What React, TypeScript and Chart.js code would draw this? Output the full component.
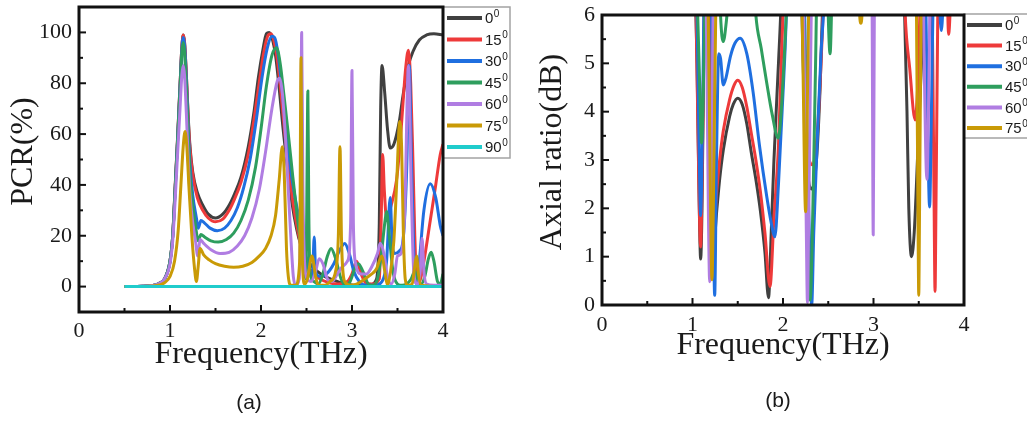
import React, { useEffect, useRef } from 'react';
import { Chart, registerables } from 'chart.js';

Chart.register(...registerables);

type Pt = [number, number];

// ---------- labels / ticks ----------
const ANGLES = ['0', '15', '30', '45', '60', '75', '90'];
const COLORS = ['#404040', '#ee3a3a', '#1f6fe0', '#2e9e5e', '#b07de2', '#c99a06', '#20cccc'];
const FREQ_TICKS = [0, 1, 2, 3, 4];
const FREQ_MINOR = [0.5, 1.5, 2.5, 3.5];
const PCR_TICKS = [0, 20, 40, 60, 80, 100];
const PCR_MINOR = [10, 30, 50, 70, 90];
const AR_TICKS = [0, 1, 2, 3, 4, 5, 6];
const AR_MINOR = [0.5, 1.5, 2.5, 3.5, 4.5, 5.5];

// ---------- (a) PCR(%) series ----------
const PCR_0: Pt[] = [[0.5,0],[0.7,0.1],[0.8,0.4],[0.88,1.2],[0.94,3],[1.0,10],[1.03,20],[1.055,38],[1.08,56],[1.11,79],[1.13,94],[1.146,99],[1.16,96],[1.18,83],[1.2,67],[1.22,55],[1.25,45],[1.3,37],[1.36,32],[1.42,28.5],[1.5,27],[1.58,28.5],[1.65,32],[1.71,36.5],[1.78,43],[1.86,55],[1.92,68],[1.97,82],[2.02,93],[2.06,99.5],[2.09,100],[2.12,98],[2.16,91],[2.2,78],[2.24,63],[2.29,47],[2.34,33],[2.39,23],[2.44,16],[2.5,11],[2.56,8],[2.62,6],[2.7,4],[2.8,2.5],[2.9,1.2],[3.0,0.6],[3.1,0.4],[3.2,0.8],[3.27,3],[3.3,25],[3.315,70],[3.33,87],[3.36,76],[3.39,62],[3.42,54.5],[3.46,56],[3.52,65],[3.56,75],[3.62,87],[3.67,92.5],[3.74,97],[3.82,99],[3.9,99.5],[4.0,99]];
const PCR_15: Pt[] = [[0.5,0],[0.7,0.1],[0.8,0.4],[0.88,1.2],[0.94,3],[1.0,10],[1.03,20],[1.055,38],[1.08,56],[1.11,79],[1.13,94],[1.146,99],[1.16,96],[1.18,83],[1.2,66],[1.22,54],[1.25,44],[1.3,35],[1.36,30],[1.42,27],[1.5,25.5],[1.58,26.5],[1.65,30],[1.71,34.5],[1.78,41],[1.86,52],[1.92,65],[1.98,80],[2.03,92],[2.08,99],[2.11,99.5],[2.14,97],[2.18,89],[2.22,76],[2.26,61],[2.31,45],[2.36,31],[2.41,21],[2.46,13],[2.52,8],[2.58,5],[2.65,3],[2.75,1.5],[2.85,1],[2.95,2],[3.0,5],[3.05,10],[3.1,5],[3.15,1.5],[3.22,1],[3.3,3],[3.32,25],[3.337,52],[3.355,38],[3.38,27],[3.43,32],[3.49,42],[3.53,57],[3.56,72],[3.59,86],[3.62,93],[3.645,80],[3.67,49],[3.69,20],[3.71,3],[3.73,1],[3.76,4],[3.8,12],[3.86,26],[3.92,40],[3.97,52],[4.0,56]];
const PCR_30: Pt[] = [[0.5,0],[0.7,0.1],[0.8,0.4],[0.88,1.2],[0.94,3],[1.0,10],[1.03,20],[1.055,37],[1.08,55],[1.11,78],[1.13,93],[1.146,98],[1.16,95],[1.18,81],[1.2,63],[1.22,48],[1.25,36],[1.29,27],[1.31,23],[1.34,26],[1.38,25],[1.44,23],[1.52,22],[1.6,23],[1.67,26],[1.74,31],[1.81,39],[1.88,50],[1.95,66],[2.01,82],[2.07,94],[2.12,98.5],[2.15,98],[2.19,91],[2.23,78],[2.28,60],[2.33,45],[2.38,34],[2.43,25],[2.48,15],[2.53,6],[2.565,4],[2.585,19.5],[2.6,6],[2.65,4],[2.72,5],[2.8,9],[2.86,14],[2.92,17],[2.97,13],[3.02,6],[3.08,2],[3.15,0.5],[3.25,0.5],[3.33,2],[3.38,10],[3.42,35],[3.44,18],[3.47,13],[3.52,14],[3.56,18],[3.6,45],[3.63,87],[3.65,55],[3.68,12],[3.71,1],[3.74,10],[3.79,30],[3.86,40.5],[3.92,35],[3.97,24],[4.0,20]];
const PCR_45: Pt[] = [[0.5,0],[0.7,0.1],[0.8,0.4],[0.88,1.2],[0.94,3],[1.0,10],[1.03,20],[1.055,37],[1.08,55],[1.11,77],[1.13,92],[1.146,96],[1.16,92],[1.18,78],[1.2,60],[1.22,44],[1.25,32],[1.28,24],[1.31,18],[1.34,20.5],[1.38,19.5],[1.45,18],[1.53,17.5],[1.62,18.5],[1.7,21],[1.78,26],[1.86,34],[1.94,47],[2.0,62],[2.06,79],[2.12,91],[2.17,94],[2.21,88],[2.25,76],[2.3,60],[2.35,43],[2.4,27],[2.45,13],[2.48,5],[2.495,3],[2.507,50],[2.515,77],[2.525,30],[2.54,5],[2.58,2],[2.63,1],[2.68,5],[2.73,12],[2.77,15],[2.82,11],[2.88,3],[2.93,0.5],[2.98,2],[3.03,7],[3.07,9],[3.12,6],[3.18,1],[3.23,0.5],[3.28,3],[3.32,12],[3.36,25],[3.38,29.5],[3.41,20],[3.45,6],[3.5,1],[3.55,0.5],[3.6,1],[3.65,3],[3.69,6],[3.72,3],[3.76,1],[3.8,4],[3.84,11],[3.87,13.5],[3.9,10],[3.94,2],[3.97,1],[4.0,5]];
const PCR_60: Pt[] = [[0.5,0],[0.7,0.1],[0.8,0.4],[0.88,1.2],[0.94,3],[1.0,9],[1.03,18],[1.055,33],[1.08,50],[1.11,70],[1.13,83],[1.146,87],[1.16,83],[1.18,68],[1.2,50],[1.22,36],[1.25,25],[1.28,18],[1.305,12],[1.33,18.5],[1.37,17],[1.45,14.5],[1.55,13],[1.65,13.5],[1.74,16],[1.82,20],[1.9,27],[1.98,38],[2.05,53],[2.12,70],[2.18,81],[2.205,82],[2.235,76],[2.27,58],[2.3,38],[2.33,18],[2.355,4],[2.38,0.5],[2.42,3],[2.437,40],[2.447,100],[2.46,40],[2.49,5],[2.55,2],[2.6,6],[2.64,11],[2.68,9],[2.73,3],[2.78,2],[2.84,5],[2.9,8],[2.95,10],[2.985,25],[3.0,85],[3.015,25],[3.04,9],[3.1,5],[3.16,5],[3.22,8],[3.28,13],[3.31,17],[3.35,13],[3.39,4],[3.43,1],[3.47,5],[3.5,12],[3.54,13],[3.58,30],[3.62,87],[3.65,40],[3.68,5],[3.72,1],[3.75,6],[3.77,19],[3.79,6],[3.82,1],[3.9,0.5],[4.0,0.5]];
const PCR_75: Pt[] = [[0.5,0],[0.7,0.05],[0.8,0.2],[0.88,0.6],[0.94,1.5],[1.0,4],[1.05,10],[1.09,22],[1.12,40],[1.145,55],[1.165,61],[1.185,55],[1.21,38],[1.24,20],[1.27,7],[1.29,2],[1.31,8],[1.33,15],[1.37,12.5],[1.43,10.5],[1.5,9],[1.6,8],[1.7,7.6],[1.8,8],[1.9,9.5],[1.98,12],[2.05,15],[2.11,20],[2.16,28],[2.2,42],[2.234,55],[2.255,45],[2.28,15],[2.3,4],[2.33,0.5],[2.38,0.5],[2.425,10],[2.44,90],[2.455,10],[2.48,1],[2.51,3],[2.56,12],[2.6,4],[2.63,0.5],[2.7,0.5],[2.76,2],[2.82,6],[2.85,20],[2.868,55],[2.885,18],[2.92,2],[2.98,0.5],[3.05,1],[3.12,2.5],[3.2,4.5],[3.27,7],[3.31,11],[3.33,12],[3.36,6],[3.39,0.5],[3.42,5],[3.46,18],[3.49,40],[3.525,65],[3.545,55],[3.565,20],[3.585,3],[3.61,0.5],[3.66,1],[3.69,8],[3.71,12],[3.73,5],[3.76,0.5],[4.0,0]];
const PCR_90: Pt[] = [[0.5,0],[4.0,0]];

// ---------- (b) Axial ratio (dB) series ----------
const AR_0: Pt[] = [[1.0,9],[1.05,5],[1.075,2],[1.09,0.95],[1.105,2],[1.13,6],[1.16,9],[1.19,8],[1.205,4],[1.22,1.6],[1.24,1.4],[1.27,2.0],[1.3,2.6],[1.34,3.2],[1.41,3.9],[1.45,4.15],[1.5,4.28],[1.55,4.15],[1.6,3.75],[1.65,3.15],[1.7,2.6],[1.75,1.95],[1.8,1.1],[1.84,0.15],[1.87,1.5],[1.9,3],[1.95,5],[1.98,6.3],[2.02,9],[2.18,9],[2.21,6],[2.23,4.5],[2.27,2.8],[2.32,2.4],[2.37,3],[2.41,4.5],[2.44,6.3],[2.47,9],[3.3,9],[3.34,6.3],[3.37,4.0],[3.39,2.0],[3.42,1.0],[3.45,1.5],[3.49,3.2],[3.53,5],[3.57,6.5],[3.6,9],[4.0,9]];
const AR_15: Pt[] = [[1.0,9],[1.04,6],[1.07,2.5],[1.09,1.2],[1.105,2.5],[1.13,6],[1.16,9],[1.19,8],[1.205,4],[1.22,1.9],[1.24,1.7],[1.27,2.4],[1.3,3.0],[1.34,3.6],[1.41,4.25],[1.46,4.55],[1.5,4.65],[1.55,4.5],[1.6,4.1],[1.65,3.55],[1.7,3.0],[1.75,2.35],[1.8,1.5],[1.856,0.38],[1.9,1.8],[1.95,3.3],[1.99,5.5],[2.02,7],[2.05,9],[2.18,9],[2.21,6.5],[2.24,4.5],[2.28,3.1],[2.33,2.9],[2.38,3.6],[2.42,5],[2.45,6.5],[2.48,9],[3.3,9],[3.35,6],[3.4,4.9],[3.46,3.83],[3.49,4.6],[3.52,6.5],[3.55,9],[3.63,9],[3.655,5],[3.67,2],[3.68,0.28],[3.69,2],[3.705,5],[3.73,9],[3.8,8],[3.83,5.6],[3.855,6.5],[3.88,8],[4.0,9]];
const AR_30: Pt[] = [[1.0,9],[1.05,6],[1.075,3],[1.09,1.85],[1.105,3],[1.125,6],[1.15,9],[1.2,8],[1.225,3],[1.245,0.2],[1.265,3],[1.29,5.2],[1.31,5.1],[1.34,4.55],[1.37,4.7],[1.42,5.15],[1.47,5.42],[1.527,5.52],[1.6,5.2],[1.67,4.4],[1.74,3.3],[1.82,2.25],[1.87,1.7],[1.91,1.41],[1.95,2.5],[1.99,4.0],[2.04,6.2],[2.07,9],[2.2,9],[2.24,6],[2.27,3],[2.3,0.8],[2.317,0],[2.34,1.5],[2.38,3.5],[2.42,5.2],[2.46,6.5],[2.5,9],[3.55,9],[3.58,6],[3.6,3.5],[3.62,2.03],[3.64,4],[3.66,6.5],[3.7,9],[3.73,6.3],[3.75,5.68],[3.77,6.3],[3.8,8],[4.0,9]];
const AR_45: Pt[] = [[1.0,9],[1.05,6.5],[1.08,4.5],[1.1,3.35],[1.12,4.5],[1.14,6.5],[1.17,9],[1.28,8],[1.31,6],[1.34,5.45],[1.37,5.8],[1.4,6.5],[1.43,8],[1.64,8],[1.7,6],[1.76,5.3],[1.82,4.6],[1.88,3.95],[1.948,3.45],[1.98,4.0],[2.01,5.0],[2.04,6.2],[2.07,8],[2.2,8],[2.24,5],[2.27,2],[2.3,0.1],[2.33,2],[2.36,5],[2.39,8],[2.48,8],[2.5,6],[2.52,5.2],[2.535,6],[2.55,8],[4.0,8]];
const AR_60: Pt[] = [[1.1,9],[1.15,6.5],[1.175,2],[1.19,0.48],[1.205,2],[1.23,6.5],[1.26,9],[2.2,9],[2.235,5],[2.258,1.5],[2.27,0.05],[2.282,1.5],[2.305,5],[2.34,9],[2.96,9],[2.985,6],[2.997,1.45],[3.009,6],[3.03,9],[3.53,9],[3.56,5],[3.59,2.6],[3.615,5],[3.64,9],[4.0,9]];
const AR_75: Pt[] = [[1.1,9],[1.17,6.5],[1.2,2],[1.215,0.52],[1.23,2],[1.26,6.5],[1.3,9],[2.18,9],[2.22,5],[2.25,1.93],[2.275,5],[2.31,9],[2.82,8],[2.845,6.1],[2.86,5.83],[2.875,6.1],[2.9,8],[3.44,9],[3.475,6],[3.493,1.5],[3.5,0.2],[3.507,1.5],[3.525,6],[3.56,9],[4.0,9]];

const PCR_SERIES = [PCR_0, PCR_15, PCR_30, PCR_45, PCR_60, PCR_75, PCR_90];
const AR_SERIES = [AR_0, AR_15, AR_30, AR_45, AR_60, AR_75];

const SERIF = '"Liberation Serif", "Times New Roman", serif';
const SANS = '"Liberation Sans", Arial, sans-serif';

function makeDatasets(series: Pt[][]) {
  return series.map((pts, i) => ({
    label: ANGLES[i] + '°',
    data: pts.map(([x, y]) => ({ x, y })),
    borderColor: COLORS[i],
    backgroundColor: COLORS[i],
    borderWidth: 3,
    pointRadius: 0,
    cubicInterpolationMode: 'monotone' as const,
    borderJoinStyle: 'round' as const,
    fill: false,
    order: series.length - i,
  }));
}

interface Cfg {
  yMin: number; yMax: number; yTicks: number[]; yMinor: number[]; yTitle: string;
  padTop: number; padRight: number; yWidth: number; xHeight: number;
  xTitlePad: number; yTitlePad: number; xTickPad: number;
  legend: { count: number; dy: number; w: number; h: number; first: number; step: number; lx0: number; lx1: number; tx: number };
}

function decorPlugin(cfg: Cfg) {
  return {
    id: 'decor',
    afterDatasetsDraw(chart: any) {
      const { ctx, chartArea: a, scales } = chart;
      const xs = scales.x, ys = scales.y;
      ctx.save();
      // legend box + entries
      const L = cfg.legend;
      ctx.strokeStyle = '#a3a3a3';
      ctx.lineWidth = 1.5;
      ctx.strokeRect(a.right, a.top + L.dy, L.w, L.h);
      for (let i = 0; i < L.count; i++) {
        const y = a.top + L.first + i * L.step;
        ctx.strokeStyle = COLORS[i];
        ctx.lineWidth = 4;
        ctx.lineCap = 'butt';
        ctx.beginPath();
        ctx.moveTo(a.right + L.lx0, y);
        ctx.lineTo(a.right + L.lx1, y);
        ctx.stroke();
        ctx.fillStyle = '#1a1a1a';
        ctx.textAlign = 'left';
        ctx.textBaseline = 'middle';
        ctx.font = '15px ' + SANS;
        ctx.fillText(ANGLES[i], a.right + L.tx, y + 1);
        const w = ctx.measureText(ANGLES[i]).width;
        ctx.font = '10px ' + SANS;
        ctx.fillText('0', a.right + L.tx + w + 0.5, y - 4);
      }
      // inward ticks
      ctx.strokeStyle = '#111';
      ctx.lineWidth = 2;
      ctx.lineCap = 'butt';
      const tick = (x1: number, y1: number, x2: number, y2: number) => {
        ctx.beginPath(); ctx.moveTo(x1, y1); ctx.lineTo(x2, y2); ctx.stroke();
      };
      FREQ_TICKS.forEach(v => { const p = xs.getPixelForValue(v); tick(p, a.bottom, p, a.bottom - 7); });
      FREQ_MINOR.forEach(v => { const p = xs.getPixelForValue(v); tick(p, a.bottom, p, a.bottom - 4); });
      cfg.yTicks.forEach(v => { const p = ys.getPixelForValue(v); tick(a.left, p, a.left + 7, p); });
      cfg.yMinor.forEach(v => { const p = ys.getPixelForValue(v); tick(a.left, p, a.left + 4, p); });
      // frame
      ctx.lineWidth = 3;
      ctx.strokeStyle = '#111';
      ctx.strokeRect(a.left, a.top, a.right - a.left, a.bottom - a.top);
      ctx.restore();
    },
  };
}

function makeOptions(cfg: Cfg): any {
  return {
    responsive: false,
    animation: false,
    events: [],
    layout: { padding: { left: 0, top: cfg.padTop, right: cfg.padRight, bottom: 0 } },
    plugins: { legend: { display: false }, tooltip: { enabled: false } },
    scales: {
      x: {
        type: 'linear',
        min: 0,
        max: 4,
        grid: { display: false, drawTicks: false },
        border: { display: false },
        ticks: { font: { family: SERIF, size: 22 }, color: '#1a1a1a', padding: cfg.xTickPad },
        title: {
          display: true,
          text: 'Frequency(THz)',
          font: { family: SERIF, size: 32, lineHeight: 1.2 },
          color: '#1a1a1a',
          padding: { top: 0, bottom: cfg.xTitlePad },
        },
        afterBuildTicks: (s: any) => { s.ticks = FREQ_TICKS.map(v => ({ value: v })); },
        afterFit: (s: any) => { s.height = cfg.xHeight; s.paddingLeft = 0; s.paddingRight = 0; },
      },
      y: {
        type: 'linear',
        min: cfg.yMin,
        max: cfg.yMax,
        grid: { display: false, drawTicks: false },
        border: { display: false },
        ticks: { font: { family: SERIF, size: 22 }, color: '#1a1a1a', padding: 7 },
        title: {
          display: true,
          text: cfg.yTitle,
          font: { family: SERIF, size: 32, lineHeight: 1.2 },
          color: '#1a1a1a',
          padding: { top: cfg.yTitlePad, bottom: 0 },
        },
        afterBuildTicks: (s: any) => { s.ticks = cfg.yTicks.map(v => ({ value: v })); },
        afterFit: (s: any) => { s.width = cfg.yWidth; s.paddingTop = 0; s.paddingBottom = 0; },
      },
    },
  };
}

const PCR_CFG: Cfg = {
  yMin: -10, yMax: 110, yTicks: PCR_TICKS, yMinor: PCR_MINOR, yTitle: '  PCR(%)',
  padTop: 7, padRight: 72, yWidth: 79, xHeight: 113, xTitlePad: 50.8, yTitlePad: 4.8, xTickPad: 6,
  legend: { count: 7, dy: 0, w: 67, h: 151, first: 11, step: 21.5, lx0: 4, lx1: 39, tx: 42 },
};

const AR_CFG: Cfg = {
  yMin: 0, yMax: 6, yTicks: AR_TICKS, yMinor: AR_MINOR, yTitle: '  Axial ratio(dB)',
  padTop: 15, padRight: 63, yWidth: 87, xHeight: 120, xTitlePad: 59.8, yTitlePad: 18.8, xTickPad: 7,
  legend: { count: 6, dy: -1, w: 80, h: 124, first: 10, step: 20.6, lx0: 3, lx1: 38, tx: 41 },
};

function LineChart({ series, cfg, width, height }: { series: Pt[][]; cfg: Cfg; width: number; height: number }) {
  const ref = useRef<HTMLCanvasElement>(null);
  useEffect(() => {
    if (!ref.current) return;
    const chart = new Chart(ref.current, {
      type: 'line',
      data: { datasets: makeDatasets(series) as any },
      options: makeOptions(cfg),
      plugins: [decorPlugin(cfg)],
    });
    return () => chart.destroy();
  }, [series, cfg]);
  return <canvas ref={ref} width={width} height={height} style={{ width, height, display: 'block' }} />;
}

export default function App() {
  const cap: React.CSSProperties = {
    position: 'absolute', fontFamily: SANS, fontSize: 21, color: '#1a1a1a',
    transform: 'translate(-50%, -50%)', whiteSpace: 'nowrap',
  };
  return (
    <div style={{ position: 'absolute', left: 0, top: 0, width: 1027, height: 425, background: '#fff', overflow: 'hidden' }}>
      <div style={{ position: 'absolute', left: 0, top: 0 }}>
        <LineChart series={PCR_SERIES} cfg={PCR_CFG} width={515} height={425} />
      </div>
      <div style={{ position: 'absolute', left: 515, top: 0 }}>
        <LineChart series={AR_SERIES} cfg={AR_CFG} width={512} height={425} />
      </div>
      <div style={{ ...cap, left: 249, top: 402 }}>(a)</div>
      <div style={{ ...cap, left: 778, top: 400 }}>(b)</div>
    </div>
  );
}
